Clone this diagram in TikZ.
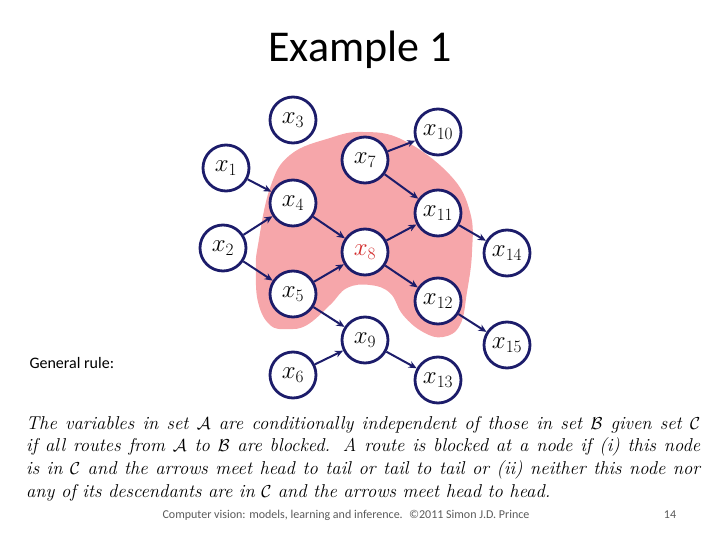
\documentclass[tikz,border=0pt]{standalone}
\usepackage{fontspec}
\usepackage{amsmath}
\newfontfamily\calibri{Carlito}
\usetikzlibrary{arrows.meta}
\definecolor{navy}{RGB}{28,28,106}
\definecolor{blobpink}{RGB}{246,166,170}
\definecolor{xred}{RGB}{210,40,40}
\definecolor{footgray}{RGB}{90,90,90}
\begin{document}
\begin{tikzpicture}[x=1pt,y=-1pt,
  var/.style={circle,draw=navy,line width=2.8pt,fill=white,minimum size=46pt,inner sep=0pt,font=\fontsize{23}{27}\selectfont},
  edge/.style={draw=navy,line width=2pt,-{Stealth[length=8pt,width=7pt]}}]
\useasboundingbox (0,0) rectangle (720,540);
% title
\node (title) at (360,50) {\calibri\fontsize{44}{52}\selectfont Example 1};
% blob
\fill[blobpink] plot[smooth cycle,tension=0.7] coordinates {
 (258,245) (270,188) (290,155) (330,138) (363,132) (403,140) (450,175)
 (470,212) (472,252) (467,292) (460,325) (443,337) (423,332) (403,315)
 (390,293) (370,285) (347,288) (330,305) (307,325) (288,329) (270,325)
 (258,302) (256,268)};
% nodes
\node[var] (x1) at (226,168) {$x_1$};
\node[var] (x2) at (223,248) {$x_2$};
\node[var] (x3) at (293,120) {$x_3$};
\node[var] (x4) at (293,203) {$x_4$};
\node[var] (x5) at (293,294) {$x_5$};
\node[var] (x6) at (293,375) {$x_6$};
\node[var] (x7) at (365,160) {$x_7$};
\node[var] (x8) at (365,252) {\color{xred}$x_8$};
\node[var] (x9) at (365,340) {$x_9$};
\node[var] (x10) at (438,132) {$x_{10}$};
\node[var] (x11) at (438,213) {$x_{11}$};
\node[var] (x12) at (438,301) {$x_{12}$};
\node[var] (x13) at (438,380) {$x_{13}$};
\node[var] (x14) at (507,253) {$x_{14}$};
\node[var] (x15) at (507,345) {$x_{15}$};
% edges
\draw[edge] (x1) -- (x4);
\draw[edge] (x2) -- (x4);
\draw[edge] (x2) -- (x5);
\draw[edge] (x4) -- (x8);
\draw[edge] (x5) -- (x8);
\draw[edge] (x5) -- (x9);
\draw[edge] (x6) -- (x9);
\draw[edge] (x7) -- (x10);
\draw[edge] (x7) -- (x11);
\draw[edge] (x8) -- (x11);
\draw[edge] (x8) -- (x12);
\draw[edge] (x9) -- (x13);
\draw[edge] (x11) -- (x14);
\draw[edge] (x12) -- (x15);
% texts
\node[anchor=west] (gr) at (26,363) {\calibri\fontsize{16}{19}\selectfont General rule:};
\node[anchor=north west,inner sep=0pt,text width=674pt,align=justify] (rule) at (26,416)
 {\fontsize{18.6}{22.6}\selectfont\itshape The variables in set $\mathcal{A}$ are conditionally independent of those in set $\mathcal{B}$ given set $\mathcal{C}$\linebreak
 if all routes from $\mathcal{A}$ to $\mathcal{B}$ are blocked. A route is blocked at a node if (i) this node\linebreak
 is in $\mathcal{C}$ and the arrows meet head to tail or tail to tail or (ii) neither this node nor\linebreak
 any of its descendants are in $\mathcal{C}$ and the arrows meet head to head.\par};
\node (foot) at (346,515) {\calibri\fontsize{12}{14}\selectfont\color{footgray}Computer vision: models, learning and inference. \ ©2011 Simon J.D. Prince};
\node (page) at (670,515) {\calibri\fontsize{12}{14}\selectfont\color{footgray}14};
\end{tikzpicture}
\end{document}
